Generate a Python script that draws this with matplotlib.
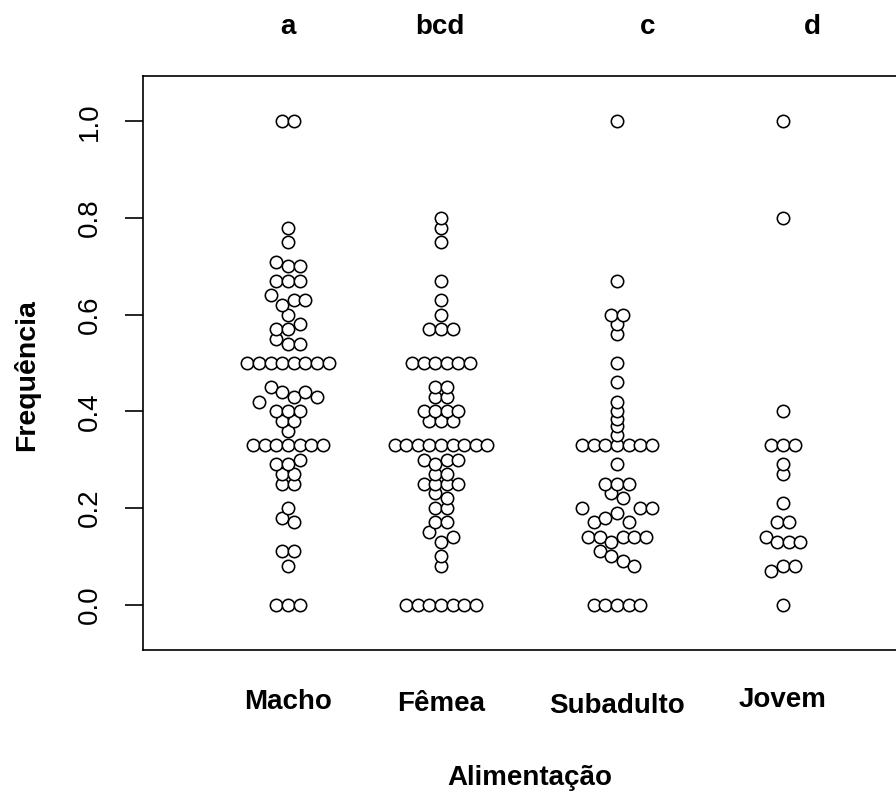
import numpy as np
import matplotlib
matplotlib.use("Agg")
import matplotlib.pyplot as plt

plt.rcParams['font.family'] = ['Liberation Sans', 'DejaVu Sans']

# ---------------- data ----------------
groups = ["Macho", "Fêmea", "Subadulto", "Jovem"]
letters = ["a", "bcd", "c", "d"]

macho = [0, 0, 0,
         0.08,
         0.11, 0.11,
         0.18, 0.17,
         0.20,
         0.25, 0.25,
         0.27, 0.27,
         0.29, 0.29, 0.30,
         0.33, 0.33, 0.33, 0.33, 0.33, 0.33, 0.33,
         0.36,
         0.38, 0.38,
         0.40, 0.40, 0.40,
         0.42, 0.45, 0.44, 0.43, 0.44, 0.43,
         0.50, 0.50, 0.50, 0.50, 0.50, 0.50, 0.50, 0.50,
         0.55, 0.54, 0.54,
         0.57, 0.57, 0.58,
         0.60,
         0.64, 0.62, 0.63, 0.63,
         0.67, 0.67, 0.67,
         0.71, 0.70, 0.70,
         0.75,
         0.78,
         1.0, 1.0]

femea = [0, 0, 0, 0, 0, 0, 0,
         0.08,
         0.10,
         0.15, 0.13, 0.14,
         0.17, 0.17,
         0.20, 0.20,
         0.23, 0.22,
         0.25, 0.25, 0.25, 0.25,
         0.27, 0.27,
         0.30, 0.29, 0.30, 0.30,
         0.33, 0.33, 0.33, 0.33, 0.33, 0.33, 0.33, 0.33, 0.33,
         0.38, 0.38, 0.38,
         0.40, 0.40, 0.40, 0.40,
         0.43, 0.43,
         0.45, 0.45,
         0.50, 0.50, 0.50, 0.50, 0.50, 0.50,
         0.57, 0.57, 0.57,
         0.60,
         0.63,
         0.67,
         0.75,
         0.78,
         0.80]

subadulto = [0, 0, 0, 0, 0,
             0.11, 0.10, 0.09, 0.08,
             0.14, 0.14, 0.13, 0.14, 0.14, 0.14,
             0.20, 0.17, 0.18, 0.19, 0.17, 0.20, 0.20,
             0.23, 0.22,
             0.25, 0.25, 0.25,
             0.29,
             0.33, 0.33, 0.33, 0.33, 0.33, 0.33, 0.33,
             0.35, 0.37, 0.385, 0.40, 0.42,
             0.46,
             0.50,
             0.56,
             0.58,
             0.60, 0.60,
             0.67,
             1.0]

jovem = [0,
         0.07, 0.08, 0.08,
         0.14, 0.13, 0.13, 0.13,
         0.17, 0.17,
         0.21,
         0.27,
         0.29,
         0.33, 0.33, 0.33,
         0.40,
         0.80,
         1.0]

series = [macho, femea, subadulto, jovem]
yticks = [0.0, 0.2, 0.4, 0.6, 0.8, 1.0]

# ---------------- layout ----------------
group_pos = [1.0, 2.0, 3.15, 4.235]
letter_pos = [1.0, 1.99, 3.35, 4.43]
label_y_px = [702, 704, 706, 700]

W, H, DPI = 896, 798, 100
fig = plt.figure(figsize=(W / DPI, H / DPI), dpi=DPI)
ax_left, ax_right, ax_top, ax_bottom = 143.3, 917.0, 76.0, 650.0
ax = fig.add_axes([ax_left / W, 1 - ax_bottom / H,
                   (ax_right - ax_left) / W, (ax_bottom - ax_top) / H])
ax.set_xlim(1 - (288 - ax_left) / 153.0, 1 + (ax_right - 288) / 153.0)
ax.set_ylim(-0.094, 1.094)


def center_swarm(vals, gap=0.0125):
    """Bin values (single-link on gap) and centre points of each bin."""
    vals = np.asarray(vals, float)
    order = np.argsort(vals, kind="stable")
    bins = np.empty(len(vals), int)
    b = 0
    prev = None
    for i in order:
        if prev is not None and vals[i] - prev > gap:
            b += 1
        bins[i] = b
        prev = vals[i]
    offs = np.zeros(len(vals))
    for k in np.unique(bins):
        idx = np.where(bins == k)[0]  # data order gives left-to-right
        n = len(idx)
        offs[idx] = np.arange(n) - (n - 1) / 2.0
    return offs


fig.canvas.draw()
p0 = ax.transData.transform((0, 0))[0]
p1 = ax.transData.transform((1, 0))[0]
px_per_unit = p1 - p0
slot = 11.6 / px_per_unit

for pos, vals in zip(group_pos, series):
    offs = center_swarm(vals)
    ax.plot(pos + offs * slot, vals, linestyle="none", marker="o",
            markersize=8.9, markerfacecolor="white", markeredgecolor="black",
            markeredgewidth=1.15, clip_on=False)

for s in ax.spines.values():
    s.set_linewidth(1.2)
ax.set_xticks([])
ax.set_yticks(yticks)
ax.set_yticklabels([f"{t:.1f}" for t in yticks], rotation=90, va="center",
                   ha="right", fontsize=20)
ax.tick_params(axis="y", length=13, width=1.2, pad=16)

for x, lab, ypx in zip(group_pos, groups, label_y_px):
    xd = ax.transData.transform((x, 0))[0] / W
    fig.text(xd, 1 - ypx / H, lab, ha="center", va="center",
             fontsize=20, fontweight="bold")

for x, lab in zip(letter_pos, letters):
    xd = ax.transData.transform((x, 0))[0] / W
    fig.text(xd, 1 - 27 / H, lab, ha="center", va="center",
             fontsize=20, fontweight="bold")

fig.text(530 / W, 1 - 778 / H, "Alimentação", ha="center", va="center",
         fontsize=20, fontweight="bold")
fig.text(27 / W, 1 - 375 / H, "Frequência", ha="center", va="center",
         rotation=90, fontsize=20.5, fontweight="bold")

fig.savefig("out.png", dpi=DPI)
